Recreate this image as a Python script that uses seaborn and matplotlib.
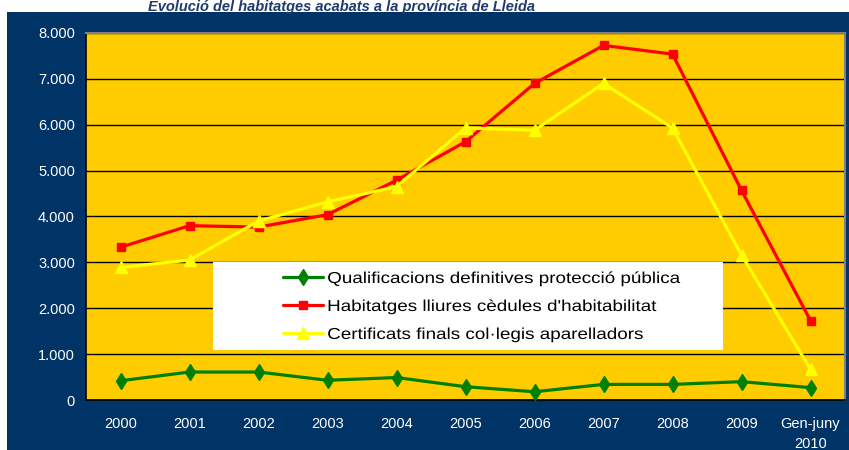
import matplotlib
matplotlib.use("Agg")
import matplotlib.pyplot as plt
import matplotlib.ticker as mticker
import matplotlib.patheffects as pe
from matplotlib.patches import Rectangle
from matplotlib.transforms import Affine2D
import seaborn as sns
import pandas as pd

categories = ["2000", "2001", "2002", "2003", "2004", "2005", "2006", "2007", "2008", "2009", "Gen-juny\n2010"]
qualificacions = [420, 610, 610, 430, 490, 290, 180, 340, 340, 400, 270]
habitatges = [3330, 3800, 3770, 4040, 4790, 5630, 6900, 7730, 7540, 4570, 1730]
certificats = [2890, 3050, 3900, 4320, 4650, 5930, 5880, 6900, 5930, 3160, 670]
series_names = ["Qualificacions definitives protecció pública",
                "Habitatges lliures cèdules d'habitabilitat",
                "Certificats finals col·legis aparelladors"]
title = "Evolució del habitatges acabats a la província de Lleida"


class Stretch(pe.AbstractPathEffect):
    """Horizontally scale rendered text about its left edge or centre."""
    def __init__(self, sx, anchor="center"):
        super().__init__()
        self.sx = sx
        self.anchor = anchor

    def draw_path(self, renderer, gc, tpath, affine, rgbFace=None):
        ext = affine.transform_path(tpath).get_extents()
        cx = ext.x0 if self.anchor == "left" else 0.5 * (ext.x0 + ext.x1)
        aff = affine + Affine2D().translate(-cx, 0).scale(self.sx, 1).translate(cx, 0)
        renderer.draw_path(gc, tpath, aff, rgbFace)


sns.set_theme(style="white")
plt.rcParams['font.family'] = ['Liberation Sans', 'DejaVu Sans']

W, H = 849, 450
fig = plt.figure(figsize=(W / 100, H / 100), dpi=100, facecolor="white")
navy = "#003366"
bg = Rectangle((7 / W, 0), 1 - 7 / W, 1 - 12 / H, transform=fig.transFigure,
               facecolor=navy, edgecolor="none", zorder=-10)
fig.patches.append(bg)

ax = fig.add_axes([86 / W, 1 - 400 / H, (845 - 86) / W, (400 - 33) / H])
ax.set_zorder(1)
ax.set_facecolor("#FFCC00")

df = pd.DataFrame({"cat": categories, "q": qualificacions, "h": habitatges, "c": certificats})
specs = [("q", "#008000", "d", 8, series_names[0]),
         ("h", "#FF0000", "s", 5.5, series_names[1]),
         ("c", "#FFFF00", "^", 8, series_names[2])]
for col, color, marker, ms, name in specs:
    sns.lineplot(data=df, x="cat", y=col, ax=ax, color=color, marker=marker, markersize=ms,
                 markeredgecolor=color, markeredgewidth=1, linewidth=2.3, label=name,
                 sort=False, zorder=3)

ax.set_xlim(-0.5, len(categories) - 0.5)
ax.set_ylim(0, 8000)
ax.set_yticks(range(0, 8001, 1000))
ax.yaxis.set_major_formatter(mticker.FuncFormatter(lambda v, p: f"{int(v):,}".replace(",", ".")))
ax.set_xticks(range(len(categories)))
ax.set_xticklabels(categories)
ax.set_xticks([i - 0.5 for i in range(len(categories) + 1)], minor=True)
ax.tick_params(axis="x", which="major", length=0, pad=12, colors="white", labelsize=10.5)
ax.tick_params(axis="x", which="minor", length=4, width=1, color="black", direction="out")
ax.tick_params(axis="y", length=4, width=1, color="black", direction="out", colors="white",
               labelsize=10.5, pad=4)
for lab in ax.get_xticklabels():
    lab.set_color("white")
    lab.set_linespacing(1.55)
for lab in ax.get_yticklabels():
    lab.set_color("white")
ax.grid(axis="y", color="black", linewidth=1.0, zorder=1)
ax.set_axisbelow(True)
ax.set_xlabel("")
ax.set_ylabel("")
for s in ["left", "bottom"]:
    ax.spines[s].set_color("black")
    ax.spines[s].set_linewidth(1.2)
for s in ["top", "right"]:
    ax.spines[s].set_color("#808080")
    ax.spines[s].set_linewidth(1.5)

# legend box
x0, x1, y0, y1 = 213, 723, 262, 350
ax.add_patch(Rectangle(((x0 - 86) / 759, (400 - y1) / 367), (x1 - x0) / 759, (y1 - y0) / 367,
                       transform=ax.transAxes, facecolor="white", edgecolor="none", zorder=4))
leg = ax.legend(loc="upper left", bbox_to_anchor=((283 - 86) / 759, (400 - 271) / 367),
                frameon=False, fontsize=11.4, handlelength=2.55, handletextpad=0.25,
                labelspacing=0.82, borderpad=0, borderaxespad=0)
leg.set_zorder(5)
for t in leg.get_texts():
    t.set_color("black")
    t.set_path_effects([Stretch(1.19, "left")])

fig.text(535 / W, 1 - 0.5 / H, title, ha="right", va="top", fontsize=10.5,
         fontweight="bold", fontstyle="italic", color="#1F3A6E", zorder=5)

fig.savefig("out.png", dpi=100, facecolor="white")
